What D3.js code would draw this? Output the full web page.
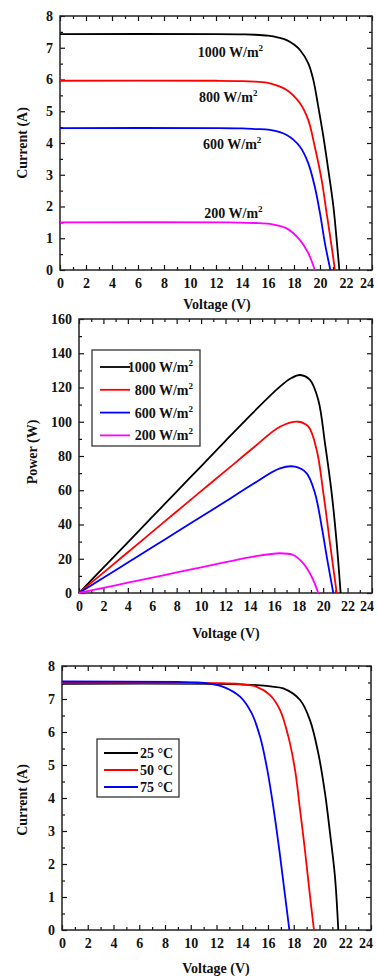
<!DOCTYPE html>
<html>
<head>
<meta charset="utf-8">
<script src="https://cdn.jsdelivr.net/npm/d3@7/dist/d3.min.js"></script>
<style>
body { margin: 0; background: #fff; }
svg { display: block; }
text { font-family: "Liberation Serif", "Times New Roman", serif; }
</style>
</head>
<body>
<svg id="chart" width="377" height="976"></svg>
<script>
// irradiance series (top two panels)
var irrLabels = ["1000", "800", "600", "200"];
var irrColors = ["#000000", "#ff0000", "#0000ff", "#ff00ff"];

// I-V curves, [voltage, current]
var iv1000 = [[0,7.43],[12,7.43],[14,7.42],[15,7.41],[16,7.38],[16.8,7.32],[17.44,7.24],[18,7.1],[18.46,6.93],[19.1,6.51],[19.49,5.98],[19.87,5.14],[20.26,4.2],[20.64,3.15],[21.03,2.0],[21.33,0.73],[21.49,0]];
var iv800 = [[0,5.96],[12,5.96],[14,5.95],[15,5.93],[16.15,5.88],[17.44,5.67],[18.46,5.25],[19.1,4.72],[19.6,3.88],[20.13,2.83],[20.51,1.79],[20.9,0.73],[21.15,0]];
var iv600 = [[0,4.47],[12,4.47],[14,4.46],[15,4.44],[16.15,4.41],[17.44,4.25],[18.46,3.88],[19.1,3.36],[19.6,2.62],[20.0,1.79],[20.38,0.84],[20.8,0]];
var iv200 = [[0,1.5],[13,1.5],[14,1.49],[15,1.48],[16.15,1.45],[17.44,1.31],[18.46,0.94],[19.1,0.53],[19.6,0]];

// P-V curves, [voltage, power]
var pv1000 = [[0,0],[2,14.8],[4,29.6],[6,44.4],[8,59.2],[10,74],[12,88.8],[14.28,105.5],[16.46,120.5],[17.4,125.5],[18.1,127.3],[18.92,124.4],[19.6,112.7],[20.15,87.4],[20.7,58.2],[21.11,29],[21.43,0]];
var pv800 = [[0,0],[2,11.9],[4,23.8],[6,35.7],[8,47.6],[10,59.5],[12,71.3],[14.28,84.8],[16.46,97.1],[17.97,100],[18.79,97.1],[19.47,83.5],[20.02,58.2],[20.56,29],[21.11,0]];
var pv600 = [[0,0],[2,8.9],[4,17.8],[6,26.7],[8,35.6],[10,44.5],[12,53.4],[14.28,63.8],[16.46,72.8],[17.69,73.8],[18.65,69.9],[19.33,58.2],[19.88,38.7],[20.34,19.3],[20.83,0]];
var pv200 = [[0,0],[2,3],[4,6],[6,9],[8,12],[10,15],[12,18],[14.28,21.2],[16.46,23.2],[17.55,22.2],[18.37,17.3],[19.06,9.5],[19.6,0]];

// temperature series (bottom panel)
var tempLabels = ["25 \u00b0C", "50 \u00b0C", "75 \u00b0C"];
var tempColors = ["#000000", "#ff0000", "#0000ff"];
var iv25 = [[0,7.46],[12,7.46],[14,7.44],[15.12,7.42],[16.2,7.38],[17.19,7.32],[18.49,6.97],[19.26,6.36],[19.91,5.35],[20.43,4.14],[20.82,2.93],[21.2,1.62],[21.46,0]];
var iv50 = [[0,7.49],[12,7.48],[13.83,7.45],[15.12,7.37],[16.16,7.12],[16.93,6.67],[17.58,5.86],[18.1,4.85],[18.49,3.64],[18.87,2.42],[19.21,1.21],[19.57,0]];
var iv75 = [[0,7.53],[9,7.52],[10.5,7.5],[11.5,7.46],[12.53,7.37],[13.83,7.07],[14.73,6.57],[15.38,5.86],[15.9,4.95],[16.41,3.74],[16.88,2.42],[17.27,1.21],[17.66,0]];

var xTicks = d3.range(0, 25, 2);
var svg = d3.select("#chart");
var serif = "'Liberation Serif', 'Times New Roman', serif";

function panel(o) {
    var x = d3.scaleLinear().domain([0, 24]).range([o.left, o.right]);
    var y = d3.scaleLinear().domain([0, o.ymax]).range([o.bottom, o.top]);
    var g = svg.append("g");

    function styleAxis(a) {
        a.select(".domain").remove();
        a.attr("font-family", serif).attr("font-size", 14).attr("font-weight", "bold")
            .attr("color", "#111");
        a.selectAll("line").attr("stroke-width", 1.2);
    }

    // major + minor ticks, pointing inside, on all four sides
    var xMinor = d3.range(1, 24, 2);
    var yMinor = d3.range(o.ystep / 2, o.ymax, o.ystep);
    var yMajor = d3.range(0, o.ymax + 0.001, o.ystep);

    g.append("g").attr("transform", "translate(0," + o.bottom + ")")
        .call(d3.axisBottom(x).tickValues(xTicks).tickSizeInner(-5).tickSizeOuter(0).tickPadding(8))
        .call(styleAxis);
    g.append("g").attr("transform", "translate(0," + o.bottom + ")")
        .call(d3.axisBottom(x).tickValues(xMinor).tickSizeInner(-3).tickSizeOuter(0).tickFormat(""))
        .call(styleAxis);
    g.append("g").attr("transform", "translate(0," + o.top + ")")
        .call(d3.axisTop(x).tickValues(xTicks).tickSizeInner(-5).tickSizeOuter(0).tickFormat(""))
        .call(styleAxis);
    g.append("g").attr("transform", "translate(0," + o.top + ")")
        .call(d3.axisTop(x).tickValues(xMinor).tickSizeInner(-3).tickSizeOuter(0).tickFormat(""))
        .call(styleAxis);
    g.append("g").attr("transform", "translate(" + o.left + ",0)")
        .call(d3.axisLeft(y).tickValues(yMajor).tickSizeInner(-5).tickSizeOuter(0).tickPadding(7))
        .call(styleAxis);
    g.append("g").attr("transform", "translate(" + o.left + ",0)")
        .call(d3.axisLeft(y).tickValues(yMinor).tickSizeInner(-3).tickSizeOuter(0).tickFormat(""))
        .call(styleAxis);
    g.append("g").attr("transform", "translate(" + o.right + ",0)")
        .call(d3.axisRight(y).tickValues(yMajor).tickSizeInner(-5).tickSizeOuter(0).tickFormat(""))
        .call(styleAxis);
    g.append("g").attr("transform", "translate(" + o.right + ",0)")
        .call(d3.axisRight(y).tickValues(yMinor).tickSizeInner(-3).tickSizeOuter(0).tickFormat(""))
        .call(styleAxis);

    // the last x label sits on the page edge; keep it inside
    g.selectAll(".tick text").filter(function (d) { return d === 24; })
        .attr("text-anchor", "end").attr("dx", "0.1em");

    // frame
    g.append("rect")
        .attr("x", o.left).attr("y", o.top)
        .attr("width", o.right - o.left).attr("height", o.bottom - o.top)
        .attr("fill", "none").attr("stroke", "#222").attr("stroke-width", 1.5);

    var line = d3.line()
        .x(function (d) { return x(d[0]); })
        .y(function (d) { return y(d[1]); })
        .curve(d3.curveCatmullRom.alpha(0.5));

    o.series.forEach(function (s, i) {
        g.append("path")
            .datum(s)
            .attr("fill", "none")
            .attr("stroke", o.colors[i])
            .attr("stroke-width", 1.8)
            .attr("d", line);
    });

    // axis titles
    g.append("text")
        .attr("x", o.xTitle[0]).attr("y", o.xTitle[1])
        .attr("text-anchor", "middle").attr("font-size", 14).attr("font-weight", "bold")
        .attr("fill", "#111")
        .text("Voltage (V)");
    g.append("text")
        .attr("transform", "translate(" + o.yTitle[0] + "," + o.yTitle[1] + ") rotate(-90)")
        .attr("text-anchor", "middle").attr("font-size", 14).attr("font-weight", "bold")
        .attr("fill", "#111")
        .text(o.yName);

    return { x: x, y: y, g: g };
}

function irrText(sel, label) {
    sel.append("tspan").text(label + " W/m");
    sel.append("tspan").attr("font-size", 9).attr("dy", -6).text("2");
}

// panel 1: I-V under irradiance
var p1 = panel({
    left: 60, right: 372, top: 16, bottom: 270, ymax: 8, ystep: 1,
    series: [iv1000, iv800, iv600, iv200], colors: irrColors,
    xTitle: [217, 309], yTitle: [27, 143], yName: "Current (A)"
});
var annot = [[10.6, 6.85], [10.7, 5.45], [11.0, 3.95], [11.1, 1.8]];
irrLabels.forEach(function (lab, i) {
    var t = p1.g.append("text")
        .attr("x", p1.x(annot[i][0])).attr("y", p1.y(annot[i][1]))
        .attr("dy", "0.35em").attr("font-size", 14).attr("font-weight", "bold").attr("fill", "#111");
    irrText(t, lab);
});

// panel 2: P-V under irradiance
var p2 = panel({
    left: 79, right: 372, top: 319, bottom: 593, ymax: 160, ystep: 20,
    series: [pv1000, pv800, pv600, pv200], colors: irrColors,
    xTitle: [226, 638], yTitle: [37, 452], yName: "Power (W)"
});
var leg2 = p2.g.append("g");
leg2.append("rect").attr("x", 92).attr("y", 350).attr("width", 108).attr("height", 96)
    .attr("fill", "#fff").attr("stroke", "#333").attr("stroke-width", 1.3);
irrLabels.forEach(function (lab, i) {
    var yy = 367 + i * 22.8;
    leg2.append("line").attr("x1", 100).attr("x2", 130).attr("y1", yy).attr("y2", yy)
        .attr("stroke", irrColors[i]).attr("stroke-width", 1.8);
    var t = leg2.append("text").attr("x", 193).attr("y", yy).attr("dy", "0.35em")
        .attr("text-anchor", "end").attr("font-size", 14).attr("font-weight", "bold").attr("fill", "#111");
    irrText(t, lab);
});

// panel 3: I-V under temperature
var p3 = panel({
    left: 62, right: 371, top: 666, bottom: 930, ymax: 8, ystep: 1,
    series: [iv25, iv50, iv75], colors: tempColors,
    xTitle: [216, 973], yTitle: [27, 800], yName: "Current (A)"
});
var leg3 = p3.g.append("g");
leg3.append("rect").attr("x", 97).attr("y", 739).attr("width", 82).attr("height", 58)
    .attr("fill", "#fff").attr("stroke", "#333").attr("stroke-width", 1.3);
tempLabels.forEach(function (lab, i) {
    var yy = 753 + i * 17;
    leg3.append("line").attr("x1", 104).attr("x2", 138).attr("y1", yy).attr("y2", yy)
        .attr("stroke", tempColors[i]).attr("stroke-width", 1.8);
    leg3.append("text").attr("x", 140).attr("y", yy).attr("dy", "0.35em")
        .attr("font-size", 14).attr("font-weight", "bold").attr("fill", "#111").text(lab);
});
</script>
</body>
</html>
